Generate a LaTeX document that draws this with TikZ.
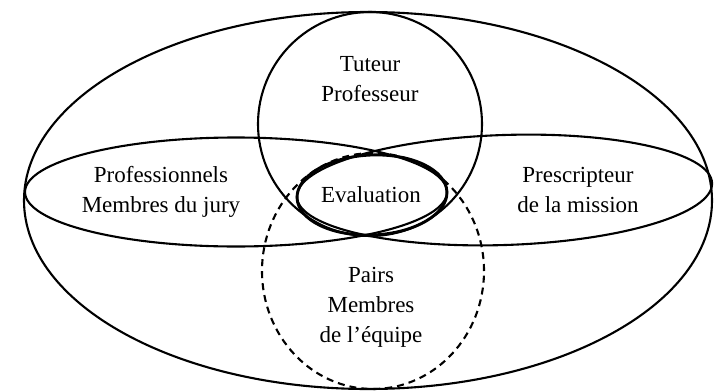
\documentclass[tikz,border=0pt]{standalone}
\usepackage{fontspec}
\setmainfont{Liberation Serif}
\usepackage{tikz}

\begin{document}
\begin{tikzpicture}[x=1bp, y=1bp,
    set line/.style={line width=2.1bp},
    set dashed/.style={line width=2.1bp, dash pattern=on 7bp off 5bp},
    set bold/.style={line width=2.9bp},
    set label/.style={font=\fontsize{23bp}{30bp}\selectfont, align=center, inner sep=0pt}]
      \useasboundingbox (0,0) rectangle (714,391);

      % Draw the sets
      \draw [set line] (368,190.5) ellipse [x radius=344, y radius=188.5];
      \draw [set line] (370,267) circle [radius=112];
      \draw [set line] (236,199) ellipse [x radius=211, y radius=54.5];
      \draw [set line, rotate around={1.9:(504.5,201)}] (504.5,201) ellipse [x radius=207.7, y radius=55];
      \draw [set dashed] (373,120) ellipse [x radius=111, y radius=118];
      \draw [set bold, rotate around={2.5:(372,196)}] (372,196) ellipse [x radius=75, y radius=40];

      % Add the labels to the sets
      \node [set label] (tuteur) at (370,312) {Tuteur\\Professeur};
      \node [set label] (pro) at (161,199.3) {Professionnels\\Membres du jury};
      \node [set label] (eval) at (371,196) {Evaluation};
      \node [set label] (prescr) at (578,201) {Prescripteur\\de la mission};
      \node [set label] (pairs) at (371,84) {Pairs\\Membres\\de l’équipe};
    \end{tikzpicture}
\end{document}
